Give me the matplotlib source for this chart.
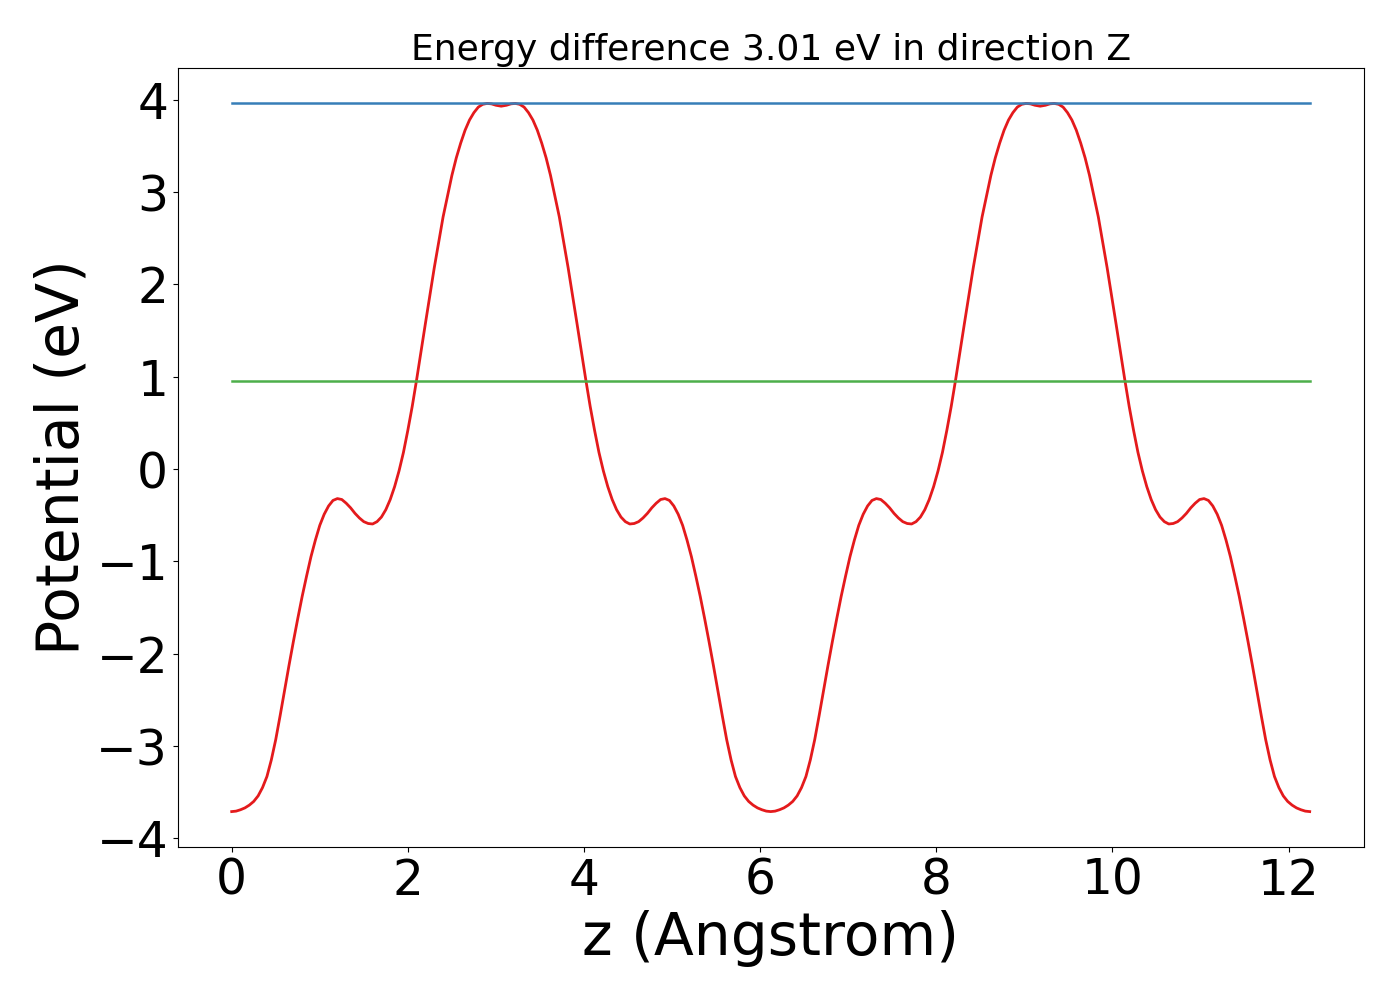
import matplotlib
matplotlib.use("Agg")
import matplotlib.pyplot as plt
from matplotlib.ticker import MultipleLocator

# potential profile (z in Angstrom, V in eV)
# first well + first barrier
z_a = [0.00, 0.05, 0.10, 0.15, 0.20, 0.25, 0.30, 0.35, 0.40, 0.45,
       0.50, 0.55, 0.60, 0.65, 0.70, 0.75, 0.80, 0.85, 0.90, 0.95,
       1.00, 1.05, 1.10, 1.15, 1.20, 1.25, 1.30, 1.35, 1.40, 1.45,
       1.50, 1.55, 1.60, 1.65, 1.70, 1.75, 1.80, 1.85, 1.90, 1.95,
       2.00, 2.05, 2.10, 2.20, 2.30, 2.40, 2.50, 2.55, 2.60, 2.65,
       2.70, 2.75, 2.80, 2.85, 2.90, 2.95, 3.00, 3.06]
v_a = [-3.71, -3.705, -3.69, -3.67, -3.64, -3.60, -3.54, -3.45, -3.33, -3.15,
       -2.93, -2.67, -2.40, -2.13, -1.87, -1.62, -1.38, -1.16, -0.95, -0.77,
       -0.61, -0.49, -0.40, -0.34, -0.32, -0.33, -0.37, -0.42, -0.48, -0.53,
       -0.57, -0.59, -0.595, -0.57, -0.52, -0.44, -0.33, -0.19, -0.02, 0.18,
       0.42, 0.68, 0.97, 1.58, 2.18, 2.73, 3.18, 3.37, 3.53, 3.67,
       3.78, 3.86, 3.92, 3.95, 3.96, 3.955, 3.94, 3.93]

z_b = [3.12, 3.17, 3.22, 3.27, 3.32, 3.37, 3.42, 3.47, 3.52, 3.57,
       3.62, 3.72, 3.82, 3.92, 4.02, 4.07, 4.12, 4.17, 4.22, 4.27,
       4.32, 4.37, 4.42, 4.47, 4.52, 4.57, 4.62, 4.67, 4.72, 4.77,
       4.82, 4.87, 4.92, 4.97, 5.02, 5.07, 5.12, 5.17, 5.22, 5.27,
       5.32, 5.37, 5.42, 5.47, 5.52, 5.57, 5.62, 5.67, 5.72, 5.77,
       5.82, 5.87, 5.92, 5.97, 6.02, 6.07, 6.12]
v_b = [3.94, 3.955, 3.96, 3.95, 3.92, 3.86, 3.78, 3.67, 3.53, 3.37,
       3.18, 2.73, 2.18, 1.58, 0.97, 0.68, 0.42, 0.18, -0.02, -0.19,
       -0.33, -0.44, -0.52, -0.57, -0.595, -0.59, -0.57, -0.53, -0.48, -0.42,
       -0.37, -0.33, -0.32, -0.34, -0.40, -0.49, -0.61, -0.77, -0.95, -1.16,
       -1.38, -1.62, -1.87, -2.13, -2.40, -2.67, -2.93, -3.15, -3.33, -3.45,
       -3.54, -3.60, -3.64, -3.67, -3.69, -3.705, -3.71]

# second well + second barrier
z_c = [6.17, 6.22, 6.27, 6.32, 6.37, 6.42, 6.47, 6.52, 6.57,
       6.62, 6.67, 6.72, 6.77, 6.82, 6.87, 6.92, 6.97, 7.02, 7.07,
       7.12, 7.17, 7.22, 7.27, 7.32, 7.37, 7.42, 7.47, 7.52, 7.57,
       7.62, 7.67, 7.72, 7.77, 7.82, 7.87, 7.92, 7.97, 8.02, 8.07,
       8.12, 8.17, 8.22, 8.32, 8.42, 8.52, 8.62, 8.67, 8.72, 8.77,
       8.82, 8.87, 8.92, 8.97, 9.02, 9.07, 9.12, 9.18]
v_c = [-3.705, -3.69, -3.67, -3.64, -3.60, -3.54, -3.45, -3.33, -3.15,
       -2.93, -2.67, -2.40, -2.13, -1.87, -1.62, -1.38, -1.16, -0.95, -0.77,
       -0.61, -0.49, -0.40, -0.34, -0.32, -0.33, -0.37, -0.42, -0.48, -0.53,
       -0.57, -0.59, -0.595, -0.57, -0.52, -0.44, -0.33, -0.19, -0.02, 0.18,
       0.42, 0.68, 0.97, 1.58, 2.18, 2.73, 3.18, 3.37, 3.53, 3.67,
       3.78, 3.86, 3.92, 3.95, 3.96, 3.955, 3.94, 3.93]

z_d = [9.24, 9.29, 9.34, 9.39, 9.44, 9.49, 9.54, 9.59, 9.64, 9.69,
       9.74, 9.84, 9.94, 10.04, 10.14, 10.19, 10.24, 10.29, 10.34, 10.39,
       10.44, 10.49, 10.54, 10.59, 10.64, 10.69, 10.74, 10.79, 10.84, 10.89,
       10.94, 10.99, 11.04, 11.09, 11.14, 11.19, 11.24, 11.29, 11.34, 11.39,
       11.44, 11.49, 11.54, 11.59, 11.64, 11.69, 11.74, 11.79, 11.84, 11.89,
       11.94, 11.99, 12.04, 12.09, 12.14, 12.19, 12.24]
v_d = [3.94, 3.955, 3.96, 3.95, 3.92, 3.86, 3.78, 3.67, 3.53, 3.37,
       3.18, 2.73, 2.18, 1.58, 0.97, 0.68, 0.42, 0.18, -0.02, -0.19,
       -0.33, -0.44, -0.52, -0.57, -0.595, -0.59, -0.57, -0.53, -0.48, -0.42,
       -0.37, -0.33, -0.32, -0.34, -0.40, -0.49, -0.61, -0.77, -0.95, -1.16,
       -1.38, -1.62, -1.87, -2.13, -2.40, -2.67, -2.93, -3.15, -3.33, -3.45,
       -3.54, -3.60, -3.64, -3.67, -3.69, -3.705, -3.71]

z = z_a + z_b + z_c + z_d
V = v_a + v_b + v_c + v_d

v_max = 3.96
v_level = 0.95
z_range = [0.0, 12.24]

fig = plt.figure(figsize=(14, 10), dpi=100)
ax = fig.add_axes([0.127, 0.153, 0.847, 0.779])

ax.plot(z, V, color='#e41a1c', lw=2)
ax.plot(z_range, [v_max, v_max], color='#377eb8', lw=1.8)
ax.plot(z_range, [v_level, v_level], color='#4daf4a', lw=1.8)

ax.set_title('Energy difference %.2f eV in direction Z' % (v_max - v_level), fontsize=26)
ax.set_xlabel('z (Angstrom)', fontsize=42)
ax.set_ylabel('Potential (eV)', fontsize=42)
ax.yaxis.set_major_locator(MultipleLocator(1))
ax.tick_params(labelsize=35)

fig.savefig('out.png', dpi=100)
